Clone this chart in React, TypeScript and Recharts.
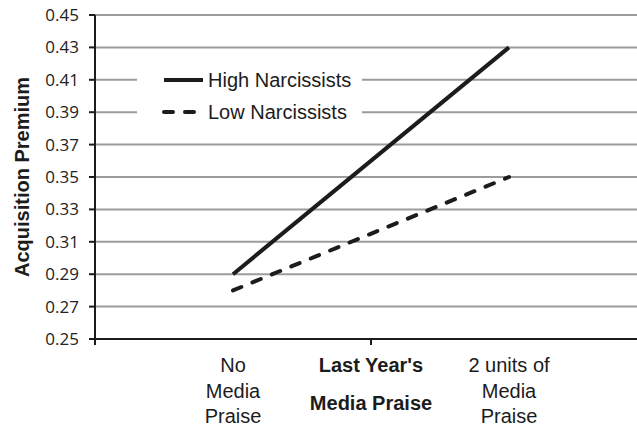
import { LineChart, Line, XAxis, YAxis, CartesianGrid, Legend } from 'recharts'

const categories = ['No Media Praise', '2 units of Media Praise']
const categoryLines = [
  ['No', 'Media', 'Praise'],
  ['2 units of', 'Media', 'Praise'],
]
const highNarcissists = [0.29, 0.43]
const lowNarcissists = [0.28, 0.35]
const yTicks = [0.25, 0.27, 0.29, 0.31, 0.33, 0.35, 0.37, 0.39, 0.41, 0.43, 0.45]
const xTitleLines = ["Last Year's", 'Media Praise']
const yTitle = 'Acquisition Premium'
const seriesNames = ['High Narcissists', 'Low Narcissists']

const FONT = "'Liberation Sans', Arial, sans-serif"
const INK = '#1c1c1c'

// category i sits in the middle of band [i, i+1]
const chartData = categories.map((c, i) => ({
  x: i + 0.5,
  name: c,
  high: highNarcissists[i],
  low: lowNarcissists[i],
}))
const xTicks = [0, 0.5, 1, 1.5, 2]

function XTick({ x, y, payload }: { x?: number; y?: number; payload?: { value: number } }) {
  const v = payload?.value ?? 0
  const ax = x ?? 0
  const ay = y ?? 0
  if (Number.isInteger(v)) {
    const isMid = v === 1
    return (
      <g>
        <line x1={ax} y1={ay} x2={ax} y2={ay + 6} stroke={INK} strokeWidth={2} />
        {isMid && xTitleLines.map((t, i) => (
          <text key={t} x={ax} y={ay + 33 + i * 38} textAnchor="middle" fontFamily={FONT} fontSize={20} fontWeight="bold" fill={INK}>
            {t}
          </text>
        ))}
      </g>
    )
  }
  const lines = categoryLines[Math.floor(v)] ?? []
  return (
    <g>
      {lines.map((t, i) => (
        <text key={i} x={ax} y={ay + 33 + i * 25.5} textAnchor="middle" fontFamily={FONT} fontSize={20} fill={INK}>
          {t}
        </text>
      ))}
    </g>
  )
}

function LegendBox() {
  const row = (label: string, dashed: boolean, top: number) => (
    <div style={{ position: 'absolute', left: 0, top, height: 24, display: 'flex', alignItems: 'center' }}>
      <svg width={70} height={10} style={{ display: 'block' }}>
        <line
          x1={27}
          y1={5}
          x2={dashed ? 64 : 66}
          y2={5}
          stroke={INK}
          strokeWidth={4}
          strokeDasharray={dashed ? '9 12' : undefined}
          strokeLinecap={dashed ? 'round' : 'butt'}
        />
      </svg>
      <span style={{ fontFamily: FONT, fontSize: 20, color: INK, lineHeight: 1, marginLeft: 1 }}>{label}</span>
    </div>
  )
  return (
    <div style={{ position: 'relative', width: 225, height: 70 }}>
      {row(seriesNames[0], false, 8)}
      {row(seriesNames[1], true, 40)}
    </div>
  )
}

export default function App() {
  return (
    <div style={{ position: 'absolute', left: 0, top: 0, width: 637, height: 427, overflow: 'hidden', background: '#fff' }}>
      <LineChart width={660} height={427} data={chartData} margin={{ top: 15, right: 13, left: 0, bottom: 0 }}>
        <CartesianGrid vertical={false} stroke="#9c9c9c" strokeWidth={2} />
        <XAxis
          dataKey="x"
          type="number"
          domain={[0, 2]}
          ticks={xTicks}
          interval={0}
          height={88}
          tickSize={0}
          tickMargin={0}
          tickLine={false}
          axisLine={{ stroke: INK, strokeWidth: 2 }}
          tick={<XTick />}
        />
        <YAxis
          domain={[0.25, 0.45]}
          ticks={yTicks}
          interval={0}
          width={95}
          tickSize={6}
          tickMargin={10}
          tickLine={{ stroke: INK, strokeWidth: 2 }}
          axisLine={{ stroke: INK, strokeWidth: 2 }}
          tickFormatter={(v: number) => v.toFixed(2)}
          tick={{ fontFamily: "'Open Sans', sans-serif", fontSize: 17, fill: '#222' }}
          label={{ value: yTitle, angle: -90, position: 'center', dx: -26, style: { fontFamily: FONT, fontSize: 20, fontWeight: 'bold', fill: INK } }}
        />
        <Legend
          layout="horizontal"
          verticalAlign="middle"
          align="center"
          content={<LegendBox />}
          wrapperStyle={{ left: 137, top: 60, width: 225, height: 70, background: '#fff' }}
        />
        <Line dataKey="high" name={seriesNames[0]} stroke={INK} strokeWidth={4} dot={false} isAnimationActive={false} />
        <Line dataKey="low" name={seriesNames[1]} stroke={INK} strokeWidth={4} strokeDasharray="9 12" strokeLinecap="round" dot={false} isAnimationActive={false} />
      </LineChart>
    </div>
  )
}
